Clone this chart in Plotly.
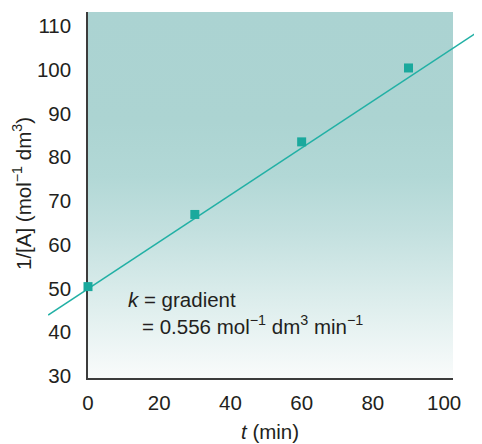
import plotly.graph_objects as go

# ---- data ----
t_min = [0, 30, 60, 90]
inv_A = [50.4, 66.9, 83.5, 100.4]
fit_t = [-11.2, 110.7]
fit_inv_A = [43.9, 109.3]
x_ticks = [0, 20, 40, 60, 80, 100]
y_ticks = [30, 40, 50, 60, 70, 80, 90, 100, 110]
x_range = [0, 102.5]
y_range = [29.5, 113.2]

# ---- layout geometry (page body has an 8px default margin) ----
OFF = 8
W, H = 482 - OFF, 444 - OFF
ML, MR, MT, MB = 48 - OFF, 0, 12 - OFF, 444 - 378
plot_w = W - ML - MR
plot_h = H - MT - MB
px_left, px_right = 88 - OFF, 453 - OFF
d0 = (px_left - ML) / plot_w
d1 = (px_right - ML) / plot_w
scale = (x_range[1] - x_range[0]) / (d1 - d0)
x2_range = [x_range[0] - d0 * scale, x_range[1] + (1 - d1) * scale]

FONT = "Liberation Sans, Arial, sans-serif"
FS = 20.5
TXT = "#231f20"
TEAL = "#1aa99d"
LINE = "#22b0a5"

fig = go.Figure()

# gradient background of the plotting area
fig.add_trace(go.Scatter(
    x=[x_range[0], x_range[0], x_range[1], x_range[1], x_range[0]],
    y=[y_range[0], y_range[1], y_range[1], y_range[0], y_range[0]],
    fill="toself", mode="none", hoverinfo="skip", showlegend=False,
    fillgradient=dict(
        type="vertical",
        colorscale=[[0, "#f9fbfb"], [0.2, "#deeeed"], [0.4, "#c3e0df"],
                    [0.55, "#b2d8d6"], [0.7, "#acd4d2"], [1, "#abd3d2"]],
        start=y_range[0], stop=y_range[1]),
    xaxis="x", yaxis="y",
))

# fitted straight line (extends beyond the plot frame)
fig.add_trace(go.Scatter(
    x=fit_t, y=fit_inv_A, mode="lines",
    line=dict(color=LINE, width=1.5),
    hoverinfo="skip", showlegend=False, xaxis="x2", yaxis="y",
))

# data points
fig.add_trace(go.Scatter(
    x=t_min, y=inv_A, mode="markers",
    marker=dict(symbol="square", size=9, color=TEAL, line=dict(width=0)),
    cliponaxis=False, showlegend=False, xaxis="x2", yaxis="y",
))

fig.add_annotation(x=10.7, y=47.5, xref="x", yref="y", xanchor="left",
                   yanchor="middle", showarrow=False, align="left",
                   text="<i>k</i> = gradient",
                   font=dict(family=FONT, size=FS, color=TXT))
fig.add_annotation(x=14.6, y=41.6, xref="x", yref="y", xanchor="left",
                   yanchor="middle", showarrow=False, align="left",
                   text="= 0.556 mol<sup>−1</sup> dm<sup>3</sup> min<sup>−1</sup>",
                   font=dict(family=FONT, size=FS, color=TXT))

# axis titles
fig.add_annotation(x=(270 - OFF - ML) / plot_w,
                   y=-(431.5 - OFF - (MT + plot_h)) / plot_h,
                   xref="paper", yref="paper", xanchor="center", yanchor="middle",
                   showarrow=False, text="<i>t</i> (min)",
                   font=dict(family=FONT, size=FS, color=TXT))
fig.add_annotation(x=(22 - OFF - ML) / plot_w, y=1 - (194 - OFF - MT) / plot_h,
                   xref="paper", yref="paper", xanchor="center", yanchor="middle",
                   textangle=-90, showarrow=False,
                   text="1/[A] (mol<sup>−1</sup> dm<sup>3</sup>)",
                   font=dict(family=FONT, size=FS, color=TXT))

fig.update_layout(
    width=W, height=H,
    margin=dict(l=ML, r=MR, t=MT, b=MB, pad=0, autoexpand=False),
    paper_bgcolor="white", plot_bgcolor="rgba(0,0,0,0)",
    font=dict(family=FONT, size=FS, color=TXT),
    showlegend=False,
    xaxis=dict(
        domain=[d0, d1], range=x_range, anchor="y", automargin=False,
        tickvals=x_ticks, ticktext=[str(v) for v in x_ticks],
        showgrid=False, zeroline=False,
        showline=True, linecolor="#3c3c3c", linewidth=1.5,
        ticks="outside", ticklen=6, tickcolor="rgba(0,0,0,0)",
        tickfont=dict(family=FONT, size=FS, color=TXT),
    ),
    yaxis=dict(
        domain=[0, 1], range=y_range, anchor="x", automargin=False,
        tickvals=y_ticks, ticktext=[str(v) for v in y_ticks],
        showgrid=False, zeroline=False,
        showline=True, linecolor="#3c3c3c", linewidth=1.5,
        ticks="outside", ticklen=11, tickcolor="rgba(0,0,0,0)",
        tickfont=dict(family=FONT, size=FS, color=TXT),
    ),
    xaxis2=dict(domain=[0, 1], range=x2_range, anchor="y", visible=False,
                automargin=False, showgrid=False, zeroline=False),
)

fig.write_html("out.html")
